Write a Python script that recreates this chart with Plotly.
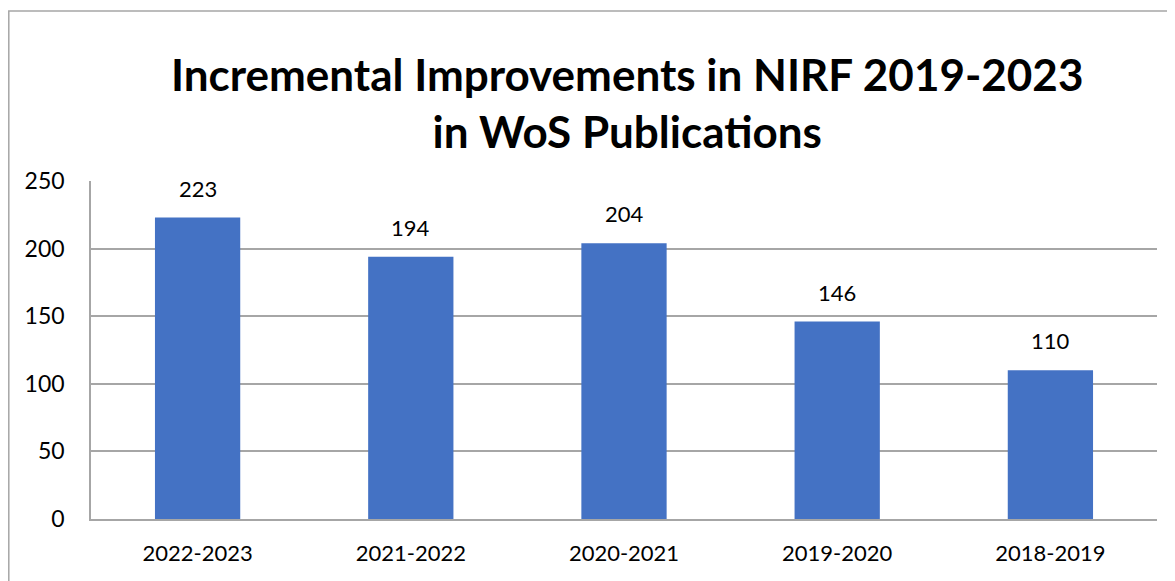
import plotly.graph_objects as go

categories = ["2022-2023", "2021-2022", "2020-2021", "2019-2020", "2018-2019"]
values = [223, 194, 204, 146, 110]
y_ticks = [0, 50, 100, 150, 200, 250]

# page body has an 8px margin, so the figure is sized/offset accordingly
W, H = 1167, 573
L, R, T, B = 83, 18, 173, 62
pw, ph = W - L - R, H - T - B

fig = go.Figure()
fig.add_trace(go.Bar(
    x=categories, y=values, marker_color="#4472C4", width=0.4,
    marker_line_width=0, hoverinfo="x+y",
))
for c, v in zip(categories, values):
    fig.add_annotation(x=c, y=v, text=str(v), showarrow=False, yanchor="bottom",
                       yshift=14, font=dict(size=22, color="#000000", family="Lato"))

fig.add_annotation(xref="paper", yref="paper", x=(619 - L) / pw, y=(H - B - 94) / ph,
                   text="<b>Incremental Improvements in NIRF 2019-2023<br>in WoS Publications</b>",
                   showarrow=False, xanchor="center", yanchor="middle",
                   font=dict(size=44, color="#000000", family="Lato"))

# outer chart border (left and top visible)
fig.add_shape(type="rect", xref="paper", yref="paper",
              x0=(0.8 - L) / pw, x1=(1190 - L) / pw,
              y0=(H - B - 600) / ph, y1=(H - B - 3) / ph,
              line=dict(color="#a6a6a6", width=1.5), layer="below")

fig.update_layout(
    width=W, height=H, margin=dict(l=L, r=R, t=T, b=B, autoexpand=False),
    plot_bgcolor="white", paper_bgcolor="white", showlegend=False,
    font=dict(family="Lato", size=22, color="#000000"),
    bargap=0.6,
)
fig.update_yaxes(range=[0, 250], tickvals=y_ticks, showgrid=True, gridcolor="#a6a6a6",
                 gridwidth=1.5, showline=True, linecolor="#a6a6a6", linewidth=1.5,
                 ticks="", ticklabelstandoff=20, zeroline=False,
                 tickfont=dict(size=23, family="Lato"))
fig.update_xaxes(showline=True, linecolor="#a6a6a6", linewidth=1.5, ticks="",
                 ticklabelstandoff=14, tickfont=dict(size=22, family="Lato"))

fig.write_html("out.html")
